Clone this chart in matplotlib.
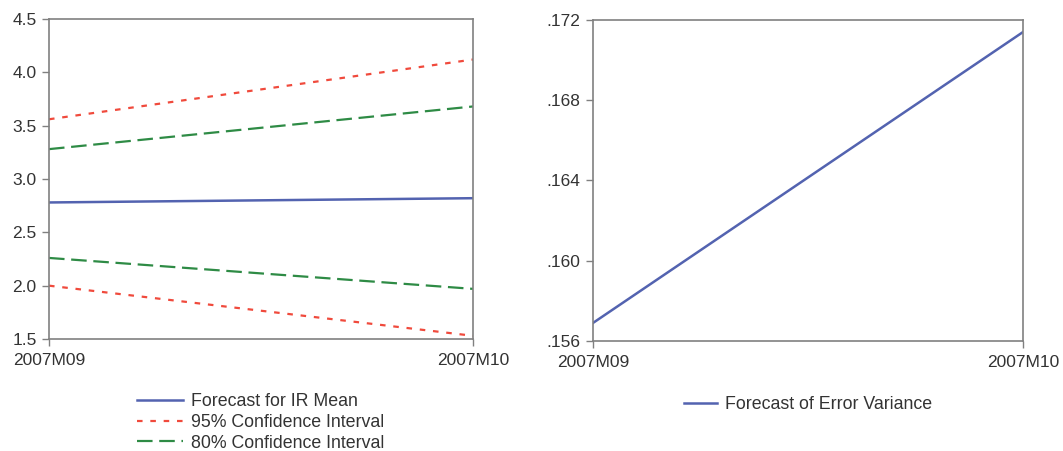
import matplotlib
matplotlib.use("Agg")
import matplotlib.pyplot as plt

dates = ["2007M09", "2007M10"]
mean_fc = [2.78, 2.82]
ci95_upper = [3.56, 4.12]
ci95_lower = [2.00, 1.53]
ci80_upper = [3.28, 3.68]
ci80_lower = [2.26, 1.97]
err_var = [0.1569, 0.1714]

left_yticks = [1.5, 2.0, 2.5, 3.0, 3.5, 4.0, 4.5]
left_ylabels = ["1.5", "2.0", "2.5", "3.0", "3.5", "4.0", "4.5"]
right_yticks = [0.156, 0.160, 0.164, 0.168, 0.172]
right_ylabels = [".156", ".160", ".164", ".168", ".172"]

plt.rcParams['font.family'] = ['Liberation Sans', 'DejaVu Sans']

fig = plt.figure(figsize=(10.63, 4.51), dpi=100)
W, H = 1063, 451
ax1 = fig.add_axes([49 / W, 1 - 339 / H, (473 - 49) / W, (339 - 19) / H])
ax2 = fig.add_axes([593 / W, 1 - 341 / H, (1023 - 593) / W, (341 - 20) / H])

blue = "#5363b0"
red = "#f04a3c"
green = "#2e8b45"
frame = "#808080"
txt = "#333333"
x = [0, 1]

l1, = ax1.plot(x, mean_fc, color=blue, lw=1.8, label="Forecast for IR Mean")
l2, = ax1.plot(x, ci95_upper, color=red, lw=1.6, ls=(0, (2.5, 3.5)), label="95% Confidence Interval")
ax1.plot(x, ci95_lower, color=red, lw=1.6, ls=(0, (2.5, 3.5)))
l3, = ax1.plot(x, ci80_upper, color=green, lw=1.6, ls=(0, (7, 3)), label="80% Confidence Interval")
ax1.plot(x, ci80_lower, color=green, lw=1.6, ls=(0, (7, 3)))
ax1.set_ylim(1.5, 4.5)
ax1.set_yticks(left_yticks)
ax1.set_yticklabels(left_ylabels)

ax2.plot(x, err_var, color=blue, lw=1.8, label="Forecast of Error Variance")
ax2.set_ylim(0.156, 0.172)
ax2.set_yticks(right_yticks)
ax2.set_yticklabels(right_ylabels)

for ax in (ax1, ax2):
    ax.set_xlim(0, 1)
    ax.set_xticks(x)
    ax.set_xticklabels(dates)
    ax.tick_params(direction="out", length=5, width=1, colors=frame, labelcolor=txt,
                   labelsize=12.5, pad=4)
    ax.tick_params(axis="x", pad=5)
    for s in ax.spines.values():
        s.set_color(frame)
        s.set_linewidth(1.2)

leg1 = ax1.legend(handles=[l1, l2, l3], loc="upper center", bbox_to_anchor=(0.5, -0.148),
                  frameon=False, fontsize=12.8, handlelength=2.6, labelspacing=0.2,
                  borderaxespad=0, handletextpad=0.45)
leg2 = ax2.legend(loc="upper center", bbox_to_anchor=(0.5, -0.15), frameon=False,
                  fontsize=12.8, handlelength=1.85, borderaxespad=0, handletextpad=0.45)
for lg in (leg1, leg2):
    for t in lg.get_texts():
        t.set_color(txt)

fig.savefig("out.png", dpi=100)
